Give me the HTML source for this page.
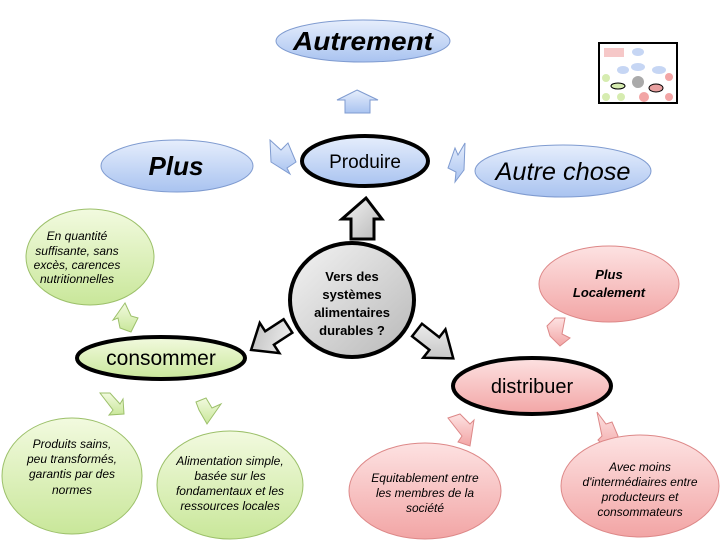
<!DOCTYPE html>
<html><head><meta charset="utf-8"><style>
html,body{margin:0;padding:0;background:#fff;}
svg{display:block;}
text{font-family:"Liberation Sans",sans-serif;}
</style></head><body>
<svg width="720" height="540" viewBox="0 0 720 540" xmlns="http://www.w3.org/2000/svg">
<defs>
<linearGradient id="bl" x1="0" y1="0" x2="0" y2="1"><stop offset="0" stop-color="#e6eefc"/><stop offset="1" stop-color="#a9c3f0"/></linearGradient>
<linearGradient id="gr" x1="0" y1="0" x2="0" y2="1"><stop offset="0" stop-color="#f2fadf"/><stop offset="1" stop-color="#c9e79a"/></linearGradient>
<linearGradient id="pk" x1="0" y1="0" x2="0" y2="1"><stop offset="0" stop-color="#fde2e2"/><stop offset="1" stop-color="#f2a5a5"/></linearGradient>
<linearGradient id="gy" x1="0" y1="0" x2="1" y2="1"><stop offset="0" stop-color="#f4f4f4"/><stop offset="1" stop-color="#b8b8b8"/></linearGradient>
</defs>

<!-- Thumbnail -->
<rect x="599" y="43" width="78" height="60" fill="#fff" stroke="#000" stroke-width="2"/>
<rect x="604" y="48" width="20" height="9" fill="#f6c8c8"/>
<ellipse cx="638" cy="52" rx="6" ry="4" fill="#c6d6f4"/>
<ellipse cx="638" cy="67" rx="7" ry="4" fill="#c6d6f4"/>
<ellipse cx="623" cy="70" rx="6" ry="4" fill="#c6d6f4"/>
<ellipse cx="659" cy="70" rx="7" ry="4" fill="#c6d6f4"/>
<circle cx="638" cy="82" r="6" fill="#aaa"/>
<ellipse cx="618" cy="86" rx="7" ry="3" fill="#d6ecb0" stroke="#000" stroke-width="1"/>
<ellipse cx="656" cy="88" rx="7" ry="4" fill="#e8a0a0" stroke="#000" stroke-width="1"/>
<circle cx="606" cy="78" r="4" fill="#d6ecb0"/><circle cx="606" cy="97" r="4" fill="#d6ecb0"/><circle cx="621" cy="97" r="4" fill="#d6ecb0"/>
<circle cx="644" cy="97" r="5" fill="#f2a5a5"/><circle cx="669" cy="97" r="4" fill="#f2a5a5"/><circle cx="669" cy="77" r="4" fill="#f2a5a5"/>

<!-- Autrement -->
<ellipse cx="363" cy="41" rx="87" ry="21" fill="url(#bl)" stroke="#7f9bd0" stroke-width="1"/>
<text x="363" y="50" text-anchor="middle" font-size="26" font-weight="bold" font-style="italic" textLength="140" lengthAdjust="spacingAndGlyphs">Autrement</text>
<polygon points="357,90 378,100 370,100 370,113 345,113 345,100 337,100" fill="url(#bl)" stroke="#7f9bd0"/>

<!-- Plus -->
<ellipse cx="177" cy="166" rx="76" ry="26" fill="url(#bl)" stroke="#7f9bd0"/>
<text x="176" y="175" text-anchor="middle" font-size="26" font-weight="bold" font-style="italic">Plus</text>
<!-- Autre chose -->
<ellipse cx="563" cy="171" rx="88" ry="26" fill="url(#bl)" stroke="#7f9bd0"/>
<text x="563" y="180" text-anchor="middle" font-size="25" font-style="italic" textLength="135" lengthAdjust="spacingAndGlyphs">Autre chose</text>
<polygon points="270,140 281,150 288,143 296,162 287,168 290,174 271,162" fill="url(#bl)" stroke="#7f9bd0"/>
<polygon points="465,143 464,170 455,182 456,172 448,168 455,148 458,155" fill="url(#bl)" stroke="#7f9bd0"/>

<!-- Produire -->
<ellipse cx="365" cy="161" rx="63" ry="25" fill="url(#bl)" stroke="#000" stroke-width="4"/>
<text x="365" y="168" text-anchor="middle" font-size="19">Produire</text>
<polygon points="366,198 382,219 374,219 374,239 351,239 351,219 342,219" fill="url(#gy)" stroke="#000" stroke-width="3"/>

<!-- center -->
<ellipse cx="352" cy="300" rx="62" ry="57" fill="url(#gy)" stroke="#000" stroke-width="4"/>
<text text-anchor="middle" font-size="13" font-weight="bold"><tspan x="352" y="281">Vers des</tspan><tspan x="352" y="299">systèmes</tspan><tspan x="352" y="317">alimentaires</tspan><tspan x="352" y="335">durables ?</tspan></text>

<!-- green top-left -->
<ellipse cx="90" cy="257" rx="64" ry="48" fill="url(#gr)" stroke="#9cc06a"/>
<text text-anchor="middle" font-size="12" font-style="italic"><tspan x="77" y="240">En quantité</tspan><tspan x="77" y="255">suffisante, sans</tspan><tspan x="77" y="269">excès, carences</tspan><tspan x="77" y="283">nutritionnelles</tspan></text>
<polygon points="125,303 131,316 138,318 131,332 120,328 118,318 113,320" fill="url(#gr)" stroke="#9cc06a"/>

<!-- grey diagonal block arrows -->
<g transform="translate(288,326) rotate(147)"><polygon points="0,-8 22,-8 22,-18 44,0 22,18 22,8 0,8" fill="url(#gy)" stroke="#000" stroke-width="2.5"/></g>
<g transform="translate(417,330) rotate(38)"><polygon points="0,-8 22,-8 22,-18 46,0 22,18 22,8 0,8" fill="url(#gy)" stroke="#000" stroke-width="2.5"/></g>

<!-- consommer -->
<ellipse cx="161" cy="358" rx="84" ry="21" fill="url(#gr)" stroke="#000" stroke-width="4"/>
<text x="161" y="365" text-anchor="middle" font-size="21">consommer</text>

<!-- Plus Localement -->
<ellipse cx="609" cy="284" rx="70" ry="38" fill="url(#pk)" stroke="#d88"/>
<text text-anchor="middle" font-size="13" font-style="italic" font-weight="bold"><tspan x="609" y="279">Plus</tspan><tspan x="609" y="297">Localement</tspan></text>
<polygon points="547,326 555,318 565,318 562,334 570,338 560,346 550,336" fill="url(#pk)" stroke="#d88"/>

<!-- distribuer -->
<ellipse cx="532" cy="386" rx="79" ry="28" fill="url(#pk)" stroke="#000" stroke-width="4"/>
<text x="532" y="393" text-anchor="middle" font-size="20">distribuer</text>

<!-- green bottom -->
<polygon points="100,393 110,393 120,404 123,399 124,414 109,415 113,410" fill="url(#gr)" stroke="#9cc06a"/>
<polygon points="196,402 206,398 212,408 221,404 207,424 199,410" fill="url(#gr)" stroke="#9cc06a"/>
<ellipse cx="72" cy="476" rx="70" ry="58" fill="url(#gr)" stroke="#9cc06a"/>
<text text-anchor="middle" font-size="12" font-style="italic"><tspan x="72" y="448">Produits sains,</tspan><tspan x="72" y="463">peu transformés,</tspan><tspan x="72" y="478">garantis par des</tspan><tspan x="72" y="494">normes</tspan></text>
<ellipse cx="230" cy="485" rx="73" ry="54" fill="url(#gr)" stroke="#9cc06a"/>
<text text-anchor="middle" font-size="12" font-style="italic"><tspan x="230" y="465">Alimentation simple,</tspan><tspan x="230" y="480">basée sur les</tspan><tspan x="230" y="495">fondamentaux et les</tspan><tspan x="230" y="510">ressources locales</tspan></text>

<!-- pink bottom -->
<polygon points="448,418 460,414 470,424 474,420 470,446 458,442 462,436" fill="url(#pk)" stroke="#d88"/>
<polygon points="597,412 606,424 612,422 618,436 612,454 598,440 602,436" fill="url(#pk)" stroke="#d88"/>
<ellipse cx="425" cy="491" rx="76" ry="48" fill="url(#pk)" stroke="#d88"/>
<text text-anchor="middle" font-size="12" font-style="italic"><tspan x="425" y="482">Equitablement entre</tspan><tspan x="425" y="497">les membres de la</tspan><tspan x="425" y="512">société</tspan></text>
<ellipse cx="640" cy="486" rx="79" ry="51" fill="url(#pk)" stroke="#d88"/>
<text text-anchor="middle" font-size="12" font-style="italic"><tspan x="640" y="471">Avec moins</tspan><tspan x="640" y="486">d'intermédiaires entre</tspan><tspan x="640" y="501">producteurs et</tspan><tspan x="640" y="516">consommateurs</tspan></text>
</svg>
</body></html>
